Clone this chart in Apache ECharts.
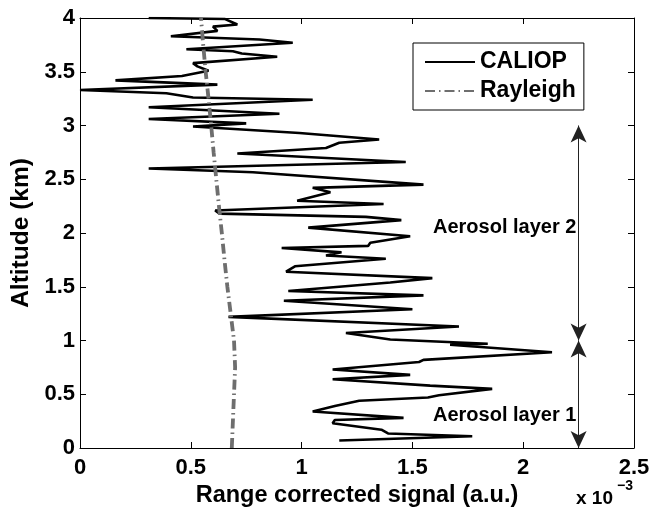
<!DOCTYPE html>
<html><head><meta charset="utf-8">
<script src="https://cdn.jsdelivr.net/npm/echarts@6/dist/echarts.min.js"></script>
<style>html,body{margin:0;padding:0;background:#fff}#c{width:653px;height:514px}</style>
</head><body><div id="c"></div>
<script>
// CALIOP profile: [signal (x1e-3 a.u.), altitude (km)]
const caliop = [[0.31,4.0],[0.655,3.99],[0.71,3.94],[0.60,3.92],[0.62,3.88],[0.41,3.83],[0.81,3.80],[0.96,3.77],[0.48,3.71],[0.69,3.69],[0.73,3.67],[0.89,3.64],[0.51,3.58],[0.53,3.55],[0.58,3.51],[0.46,3.46],[0.16,3.42],[0.62,3.38],[0.0,3.33],[0.39,3.30],[0.51,3.26],[1.05,3.24],[0.31,3.17],[0.90,3.11],[0.31,3.06],[0.75,3.02],[0.51,2.99],[0.99,2.93],[1.35,2.87],[1.17,2.84],[1.11,2.79],[0.71,2.74],[1.47,2.66],[0.31,2.60],[0.72,2.57],[0.78,2.565],[1.55,2.45],[1.05,2.42],[1.13,2.38],[0.98,2.30],[1.37,2.27],[0.61,2.21],[0.63,2.18],[1.29,2.15],[1.45,2.12],[1.03,2.05],[1.49,1.97],[1.31,1.91],[1.30,1.88],[0.91,1.86],[1.18,1.82],[1.11,1.79],[1.38,1.76],[0.97,1.69],[0.93,1.64],[1.59,1.58],[1.40,1.54],[0.94,1.46],[1.55,1.42],[0.92,1.37],[1.50,1.29],[0.67,1.22],[1.71,1.13],[1.20,1.07],[1.40,1.01],[1.84,0.97],[1.67,0.96],[2.13,0.89],[1.55,0.82],[1.53,0.80],[1.14,0.73],[1.49,0.68],[1.14,0.64],[1.58,0.58],[1.86,0.55],[1.62,0.49],[1.57,0.47],[1.26,0.44],[1.15,0.39],[1.05,0.34],[1.46,0.28],[1.15,0.26],[1.14,0.23],[1.36,0.17],[1.39,0.135],[1.77,0.11],[1.17,0.07]];
// Rayleigh profile
const rayleigh = [[0.685,0],[0.695,0.5],[0.70,0.75],[0.695,1.0],[0.68,1.25],[0.665,1.5],[0.652,1.75],[0.64,2.0],[0.627,2.25],[0.615,2.5],[0.603,2.75],[0.592,3.0],[0.58,3.25],[0.567,3.5],[0.556,3.75],[0.546,4.0]];
// annotations
const layerArrows = [[[2.25,0],[2.25,1]],[[2.25,1],[2.25,3]]];
const layerLabels = [{text:'Aerosol layer 2', at:[1.593,2.05]},{text:'Aerosol layer 1', at:[1.593,0.30]}];
const seriesNames = ['CALIOP','Rayleigh'];

const FONT = '"Liberation Sans", Arial, Helvetica, sans-serif';
const chart = echarts.init(document.getElementById('c'), null, {renderer:'canvas'});
const axisCommon = {
  type:'value',
  axisLine:{show:true, onZero:false, lineStyle:{color:'#000', width:1}},
  axisTick:{show:true, inside:true, length:6, lineStyle:{color:'#000'}},
  splitLine:{show:false}
};
chart.setOption({
  animation:false,
  backgroundColor:'#fff',
  grid:{left:80, right:19, top:18, bottom:66},
  legend:{
    data:seriesNames, orient:'vertical', left:413, top:43,
    backgroundColor:'#fff', borderColor:'#000', borderWidth:1,
    padding:[7,8,7,11], itemGap:5, itemWidth:50, itemHeight:14,
    itemStyle:{opacity:0},
    textStyle:{fontFamily:FONT, fontWeight:'bold', fontSize:23, color:'#000', lineHeight:24}
  },
  xAxis:[
    Object.assign({}, axisCommon, {min:0, max:2.5, interval:0.5, position:'bottom',
      name:'Range corrected signal (a.u.)', nameLocation:'middle', nameGap:36,
      nameTextStyle:{fontFamily:FONT, fontWeight:'bold', fontSize:23.5, color:'#000'},
      axisLabel:{fontFamily:FONT, fontWeight:'bold', fontSize:22, color:'#000', margin:9}}),
    Object.assign({}, axisCommon, {min:0, max:2.5, interval:0.5, position:'top', axisLabel:{show:false}})
  ],
  yAxis:[
    Object.assign({}, axisCommon, {min:0, max:4, interval:0.5, position:'left',
      name:'Altitude (km)', nameLocation:'middle', nameGap:39,
      nameTextStyle:{fontFamily:FONT, fontWeight:'bold', fontSize:24.5, color:'#000'},
      axisLabel:{fontFamily:FONT, fontWeight:'bold', fontSize:22, color:'#000', margin:5}}),
    Object.assign({}, axisCommon, {min:0, max:4, interval:0.5, position:'right', axisLabel:{show:false}})
  ],
  series:[
    {name:seriesNames[0], type:'line', data:caliop, symbol:'none', clip:true,
     lineStyle:{color:'#000', width:2.6}, itemStyle:{color:'#000'},
     markPoint:{symbol:'circle', symbolSize:0.01, silent:true,
       data:layerLabels.map(l=>({coord:l.at, label:{show:true, position:'right', distance:0, formatter:l.text,
         fontFamily:FONT, fontWeight:'bold', fontSize:20, color:'#000'}}))},
     markLine:{silent:true, symbol:['arrow','arrow'], symbolSize:[12,17], label:{show:false},
       lineStyle:{color:'#222', width:1, type:'solid'},
       data:layerArrows.map(a=>[{coord:a[0]},{coord:a[1]}])}
    },
    {name:seriesNames[1], type:'line', data:rayleigh, symbol:'none', clip:true,
     lineStyle:{color:'#6e6e6e', width:3.8, type:[10,4,1.5,4]}, itemStyle:{color:'#6e6e6e'}}
  ],
  graphic:[
    {type:'text', left:576, top:489, style:{text:'x 10', fontFamily:'Liberation Sans', fontWeight:'bold', fontSize:19, fill:'#000'}},
    {type:'text', left:617, top:479, style:{text:'\u22123', fontFamily:'Liberation Sans', fontWeight:'bold', fontSize:14, fill:'#000'}}
  ]
});
</script></body></html>
